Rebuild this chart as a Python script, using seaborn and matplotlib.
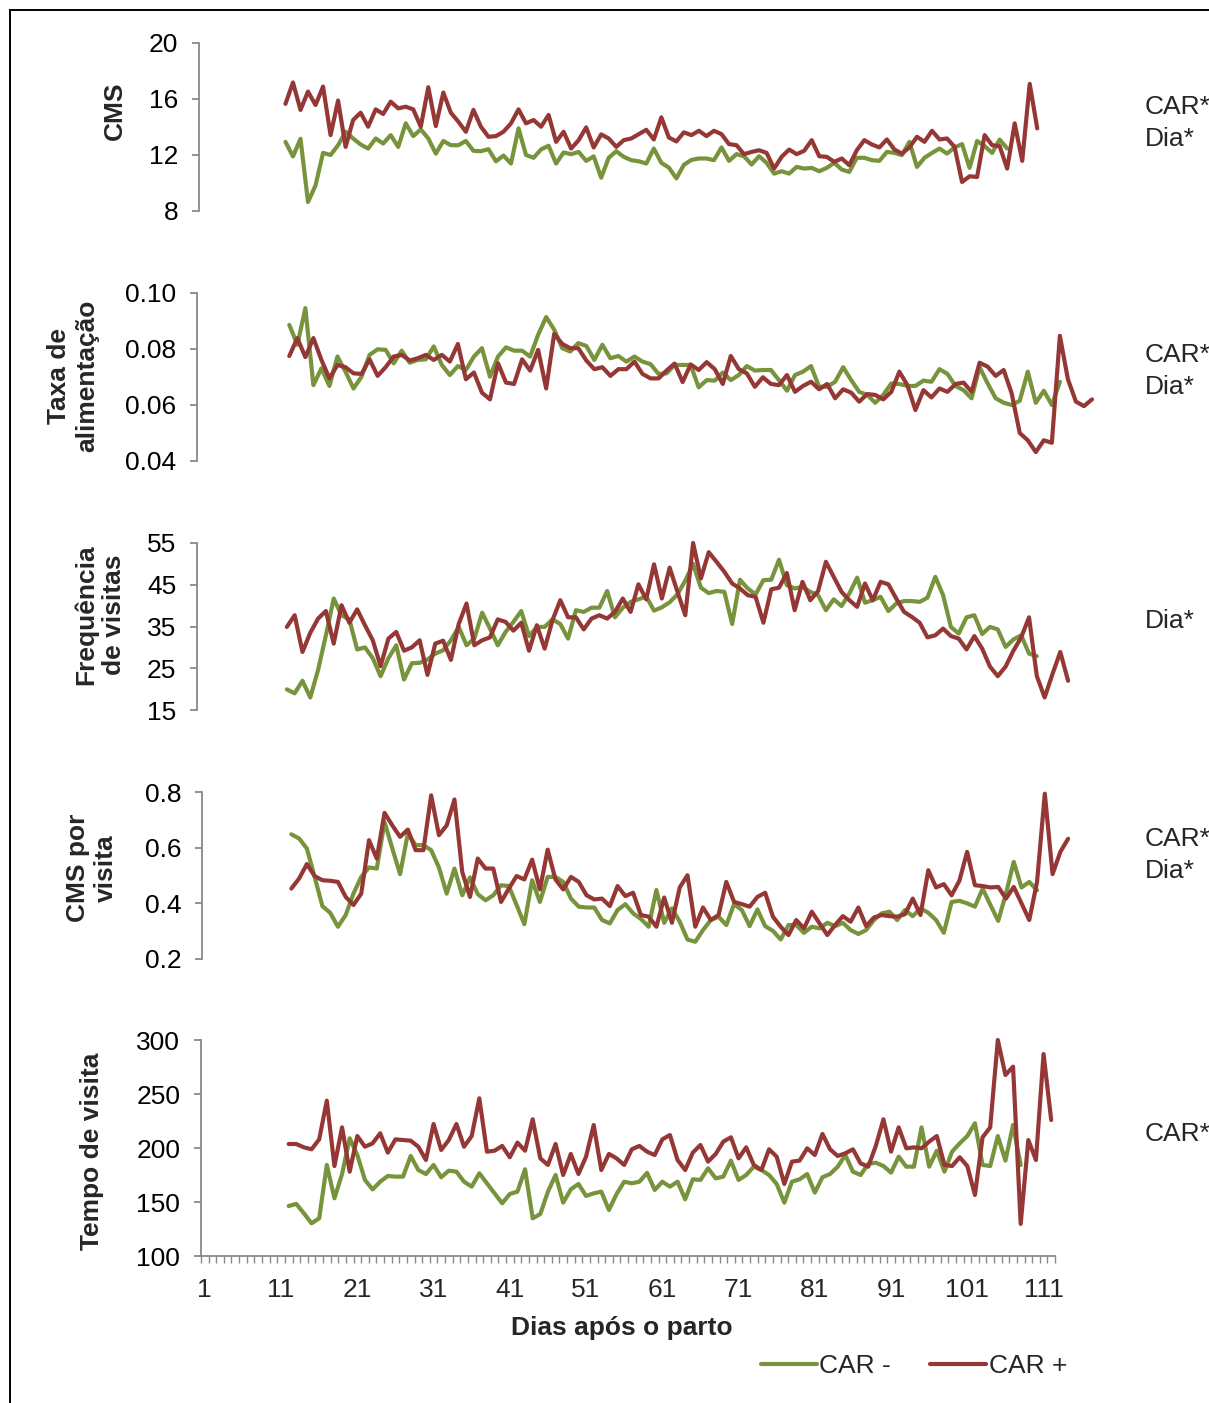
import numpy as np
import pandas as pd
import matplotlib
matplotlib.use("Agg")
import matplotlib.pyplot as plt
import seaborn as sns
from matplotlib.patches import Rectangle

# ---------------- data ----------------
dias_neg = list(range(12, 109))   # CAR - : days 12..108
dias_pos = list(range(12, 113))   # CAR + : days 12..112

cms_neg = [12.94, 11.9, 13.16, 8.64, 9.83, 12.15, 12.0, 12.7, 13.66, 13.18,
           12.75, 12.46, 13.18, 12.82, 13.42, 12.58, 14.26, 13.35, 13.83, 13.18,
           12.1, 13.0, 12.7, 12.7, 13.0, 12.3, 12.27, 12.42, 11.55, 11.96,
           11.39, 13.9, 12.0, 11.8, 12.4, 12.66, 11.39, 12.18, 12.06, 12.22,
           11.58, 11.9, 10.38, 11.8, 12.27, 11.87, 11.63, 11.55, 11.39, 12.46,
           11.44, 11.1, 10.33, 11.3, 11.65, 11.75, 11.75, 11.63, 12.54, 11.58,
           12.06, 11.91, 11.32, 11.91, 11.44, 10.67, 10.84, 10.67, 11.15, 11.03,
           11.08, 10.84, 11.08, 11.44, 10.96, 10.79, 11.8, 11.8, 11.63, 11.58,
           12.22, 12.15, 11.99, 12.94, 11.15, 11.8, 12.15, 12.46, 12.1, 12.54,
           12.78, 11.08, 13.0, 12.63, 12.15, 13.1, 12.46]
cms_pos = [15.65, 17.18, 15.22, 16.53, 15.57, 16.89, 13.42, 15.89, 12.58, 14.5,
           15.02, 14.02, 15.26, 14.93, 15.81, 15.33, 15.45, 15.26, 14.02, 16.84,
           14.07, 16.46, 15.02, 14.38, 13.66, 15.22, 14.02, 13.3, 13.35, 13.66,
           14.26, 15.26, 14.26, 14.5, 14.02, 14.86, 12.94, 13.66, 12.46, 13.06,
           13.97, 12.54, 13.47, 13.18, 12.58, 13.06, 13.18, 13.49, 13.8, 13.11,
           14.69, 13.25, 12.97, 13.62, 13.42, 13.73, 13.35, 13.73, 13.49, 12.78,
           12.7, 12.06, 12.22, 12.34, 12.15, 11.03, 11.87, 12.39, 12.06, 12.3,
           13.06, 11.91, 11.87, 11.51, 11.75, 11.27, 12.34, 13.06, 12.75, 12.54,
           13.11, 12.39, 12.1, 12.54, 13.3, 12.94, 13.73, 13.11, 13.18, 12.58,
           10.07, 10.48, 10.43, 13.42, 12.7, 12.63, 11.03, 14.26, 11.58, 17.08, 13.9]

taxa_neg = [0.0886, 0.0815, 0.0946, 0.0671, 0.0731, 0.0668, 0.0773, 0.0719, 0.0659, 0.0701,
            0.0779, 0.0799, 0.0797, 0.0749, 0.0794, 0.0751, 0.0761, 0.0763, 0.0809, 0.0743,
            0.0707, 0.0739, 0.0725, 0.0773, 0.0803, 0.0701, 0.0773, 0.0806, 0.0794, 0.0794,
            0.0773, 0.0851, 0.0914, 0.0869, 0.0803, 0.0791, 0.0821, 0.0811, 0.0761, 0.0815,
            0.0767, 0.0775, 0.0755, 0.0773, 0.0755, 0.0746, 0.0711, 0.0713, 0.0743, 0.0743,
            0.0743, 0.0663, 0.0689, 0.0687, 0.0716, 0.0689, 0.0707, 0.0739, 0.0723, 0.0725,
            0.0725, 0.0689, 0.0651, 0.0707, 0.0719, 0.0739, 0.0665, 0.0665, 0.0683, 0.0735,
            0.0689, 0.0647, 0.0636, 0.0608, 0.0636, 0.0677, 0.0675, 0.0668, 0.0668, 0.0687,
            0.0683, 0.0728, 0.0711, 0.0668, 0.0653, 0.0624, 0.0735, 0.0677, 0.0624, 0.0608,
            0.0600, 0.0615, 0.0719, 0.0608, 0.0651, 0.0600, 0.0683]
taxa_pos = [0.0775, 0.0839, 0.0771, 0.0839, 0.0761, 0.0695, 0.0743, 0.0735, 0.0713, 0.0711,
            0.0763, 0.0704, 0.0735, 0.0773, 0.0779, 0.0759, 0.0767, 0.0779, 0.0761, 0.0779,
            0.0755, 0.0818, 0.0692, 0.0716, 0.0644, 0.0620, 0.0749, 0.0680, 0.0675, 0.0763,
            0.0723, 0.0797, 0.0659, 0.0854, 0.0818, 0.0803, 0.0803, 0.0759, 0.0728, 0.0735,
            0.0704, 0.0728, 0.0728, 0.0755, 0.0711, 0.0695, 0.0695, 0.0723, 0.0748, 0.0682,
            0.0745, 0.0725, 0.0753, 0.0728, 0.0675, 0.0775, 0.0728, 0.0713, 0.0665, 0.0699,
            0.0675, 0.0671, 0.0707, 0.0647, 0.0668, 0.0683, 0.0656, 0.0675, 0.0624, 0.0656,
            0.0644, 0.0612, 0.0639, 0.0636, 0.0620, 0.0647, 0.0719, 0.0671, 0.0582, 0.0653,
            0.0627, 0.0659, 0.0647, 0.0675, 0.0680, 0.0647, 0.0751, 0.0737, 0.0704, 0.0725,
            0.0641, 0.0500, 0.0474, 0.0432, 0.0474, 0.0465, 0.0847, 0.0692, 0.0612, 0.0596, 0.0620]

freq_neg = [19.94, 19.0, 22.0, 18.0, 24.6, 32.9, 41.7, 37.7, 36.7, 29.5,
            30.0, 27.4, 23.1, 27.4, 30.5, 22.3, 26.2, 26.3, 27.1, 28.5,
            29.3, 31.7, 34.9, 30.5, 32.1, 38.3, 34.5, 30.5, 33.7, 36.1,
            38.7, 32.7, 34.9, 34.9, 36.7, 35.6, 32.1, 38.9, 38.5, 39.5,
            39.5, 43.5, 37.2, 39.5, 40.9, 41.5, 42.2, 38.8, 39.6, 40.8,
            42.7, 46.0, 50.0, 44.3, 43.0, 43.5, 43.3, 35.6, 46.2, 44.1,
            42.7, 46.1, 46.2, 51.0, 44.9, 44.1, 44.5, 43.3, 42.5, 38.9,
            41.5, 39.9, 42.9, 46.7, 40.7, 41.3, 42.1, 38.7, 40.5, 41.1,
            41.1, 40.9, 41.9, 46.9, 42.5, 34.9, 33.3, 37.2, 37.7, 33.2,
            34.9, 34.3, 30.1, 31.9, 32.9, 28.5, 27.9]
freq_pos = [34.9, 37.7, 28.9, 33.5, 36.9, 38.7, 30.9, 40.1, 35.9, 39.1,
            35.3, 31.7, 25.5, 32.1, 33.7, 29.2, 30.0, 31.7, 23.4, 30.9,
            31.6, 27.0, 35.6, 40.5, 30.5, 31.7, 32.4, 36.7, 36.1, 34.0,
            35.9, 29.2, 35.3, 29.7, 36.5, 41.3, 37.2, 37.2, 34.3, 36.9,
            37.7, 36.9, 38.5, 41.7, 38.5, 45.1, 41.5, 49.9, 41.7, 49.1,
            43.3, 37.7, 55.0, 46.5, 52.8, 50.5, 48.1, 45.3, 44.1, 42.5,
            42.1, 35.9, 43.9, 44.3, 47.8, 38.9, 45.7, 41.3, 43.5, 50.5,
            46.9, 43.3, 41.3, 39.7, 45.3, 41.3, 45.7, 45.1, 41.7, 38.5,
            37.3, 35.9, 32.4, 32.9, 34.5, 32.7, 32.1, 29.5, 32.7, 29.7,
            25.4, 23.1, 25.4, 29.2, 32.4, 37.2, 23.1, 18.0, 23.6, 28.9, 22.0]

cmsv_neg = [0.648, 0.633, 0.597, 0.495, 0.390, 0.366, 0.316, 0.358, 0.435, 0.495,
            0.529, 0.525, 0.692, 0.597, 0.505, 0.651, 0.609, 0.609, 0.591, 0.529,
            0.435, 0.525, 0.429, 0.493, 0.433, 0.411, 0.429, 0.465, 0.462, 0.394,
            0.325, 0.483, 0.405, 0.495, 0.495, 0.477, 0.417, 0.388, 0.385, 0.385,
            0.340, 0.328, 0.376, 0.397, 0.364, 0.344, 0.316, 0.448, 0.330, 0.382,
            0.334, 0.270, 0.262, 0.304, 0.340, 0.352, 0.322, 0.397, 0.376, 0.318,
            0.378, 0.318, 0.301, 0.270, 0.322, 0.322, 0.294, 0.316, 0.310, 0.330,
            0.318, 0.330, 0.304, 0.290, 0.304, 0.340, 0.364, 0.370, 0.340, 0.376,
            0.354, 0.382, 0.366, 0.340, 0.294, 0.405, 0.409, 0.400, 0.388, 0.453,
            0.394, 0.337, 0.435, 0.549, 0.457, 0.477, 0.447]
cmsv_pos = [0.453, 0.489, 0.541, 0.498, 0.483, 0.481, 0.477, 0.423, 0.394, 0.435,
            0.627, 0.561, 0.725, 0.680, 0.639, 0.665, 0.591, 0.591, 0.788, 0.645,
            0.680, 0.773, 0.513, 0.423, 0.561, 0.525, 0.525, 0.405, 0.453, 0.498,
            0.486, 0.557, 0.450, 0.593, 0.486, 0.450, 0.495, 0.477, 0.429, 0.414,
            0.417, 0.390, 0.462, 0.426, 0.438, 0.358, 0.352, 0.316, 0.421, 0.330,
            0.457, 0.501, 0.316, 0.385, 0.340, 0.358, 0.477, 0.405, 0.397, 0.388,
            0.423, 0.438, 0.352, 0.316, 0.286, 0.340, 0.310, 0.370, 0.328, 0.286,
            0.322, 0.354, 0.334, 0.385, 0.318, 0.349, 0.358, 0.354, 0.352, 0.361,
            0.417, 0.358, 0.519, 0.457, 0.469, 0.429, 0.481, 0.585, 0.465, 0.462,
            0.457, 0.459, 0.417, 0.459, 0.400, 0.340, 0.477, 0.794, 0.505, 0.585, 0.632]

tempo_neg = [146.3, 148.2, 139.5, 130.3, 134.9, 184.3, 153.4, 175.9, 209.0, 193.5,
             170.4, 161.7, 168.8, 174.1, 173.5, 173.5, 192.6, 179.6, 175.9, 184.3,
             172.9, 179.0, 178.1, 168.8, 164.2, 176.6, 167.3, 158.0, 148.8, 157.4,
             159.6, 180.3, 134.9, 138.9, 159.6, 175.0, 149.4, 161.7, 166.7, 155.6,
             158.0, 159.6, 142.6, 157.4, 168.8, 167.3, 168.8, 177.0, 161.1, 168.8,
             164.2, 168.8, 152.5, 171.0, 170.4, 181.2, 171.9, 173.5, 188.3, 170.4,
             175.0, 182.7, 179.6, 175.0, 166.7, 149.4, 168.8, 171.0, 175.9, 158.7,
             172.9, 175.9, 182.7, 193.5, 178.1, 175.0, 185.2, 186.4, 183.3, 177.2,
             192.0, 182.7, 182.7, 219.1, 182.7, 197.5, 178.1, 196.6, 204.3, 211.1,
             222.9, 184.3, 183.3, 211.1, 188.3, 221.3, 184.3]
tempo_pos = [203.7, 203.7, 200.6, 198.8, 208.0, 243.8, 183.3, 219.1, 178.1, 211.1,
             201.2, 204.3, 213.6, 195.7, 208.0, 207.4, 206.8, 201.2, 188.9, 222.2,
             198.2, 207.4, 222.2, 201.2, 211.1, 246.0, 196.6, 197.5, 201.9, 191.4,
             205.0, 197.5, 226.6, 190.4, 184.3, 203.7, 175.0, 194.5, 175.9, 192.0,
             221.3, 179.6, 194.5, 190.4, 184.3, 198.8, 201.9, 196.6, 193.5, 208.0,
             212.0, 188.9, 179.6, 195.7, 202.8, 187.4, 194.5, 205.9, 209.9, 190.4,
             200.6, 184.3, 179.6, 198.8, 192.0, 166.7, 187.4, 188.3, 199.7, 193.5,
             213.0, 198.8, 192.6, 195.1, 198.8, 185.8, 182.7, 201.9, 226.6, 196.6,
             219.1, 199.7, 200.6, 199.7, 205.9, 211.1, 184.3, 183.3, 191.4, 183.3,
             156.5, 209.9, 219.1, 300.0, 267.6, 275.3, 129.7, 207.4, 188.9, 287.0, 225.9]

grupos = ["CAR -", "CAR +"]
ylabels = ["CMS", "Taxa de\nalimentação", "Frequência\nde visitas", "CMS por\nvisita", "Tempo de visita"]
annots = ["CAR*\nDia*", "CAR*\nDia*", "Dia*", "CAR*\nDia*", "CAR*"]
yticks = [[8, 12, 16, 20], [0.04, 0.06, 0.08, 0.10], [15, 25, 35, 45, 55],
          [0.2, 0.4, 0.6, 0.8], [100, 150, 200, 250, 300]]
ytick_labels = [["8", "12", "16", "20"], ["0.04", "0.06", "0.08", "0.10"],
                ["15", "25", "35", "45", "55"], ["0.2", "0.4", "0.6", "0.8"],
                ["100", "150", "200", "250", "300"]]
xtick_pos = list(range(1, 112, 10))
xtick_labels = [str(v) for v in xtick_pos]
xlabel = "Dias após o parto"

series = [(cms_neg, cms_pos), (taxa_neg, taxa_pos), (freq_neg, freq_pos),
          (cmsv_neg, cmsv_pos), (tempo_neg, tempo_pos)]

# ---------------- style / layout ----------------
sns.set_style("white")
plt.rcParams['font.family'] = ['Liberation Sans', 'DejaVu Sans']
FS = 19
GREEN = "#77933C"
RED = "#953735"
AXC = "#898989"

W, H = 1209, 1403
fig = plt.figure(figsize=(W / 100, H / 100), dpi=100)

# pixel boxes: (x_left, x_right, y_top, y_bottom)
boxes = [(199, 1041, 43, 211), (197, 1096, 293, 461), (197, 1072, 543, 710),
         (202, 1072, 792, 959), (201, 1055, 1040, 1256)]
ylab_pos = [(115, 111), (73, 376), (100, 615), (92, 868), (92, 1151)]
annot_y = [123, 371, 621, 855, 1134]

axes = []
for i, (box, (neg, pos)) in enumerate(zip(boxes, series)):
    x0, x1, yt, yb = box
    ax = fig.add_axes([x0 / W, 1 - yb / H, (x1 - x0) / W, (yb - yt) / H])
    df = pd.concat([
        pd.DataFrame({"Dia": dias_neg, "valor": neg, "grupo": grupos[0]}),
        pd.DataFrame({"Dia": dias_pos, "valor": pos, "grupo": grupos[1]}),
    ])
    sns.lineplot(data=df, x="Dia", y="valor", hue="grupo", hue_order=grupos,
                 palette=[GREEN, RED], linewidth=3.0, ax=ax, legend=(i == 4),
                 solid_joinstyle="round", solid_capstyle="round", clip_on=False)
    ax.set_xlim(0.5, 112.5)
    ax.set_ylim(yticks[i][0], yticks[i][-1])
    ax.set_yticks(yticks[i])
    ax.set_yticklabels(ytick_labels[i])
    ax.set_xlabel("")
    ax.set_ylabel("")
    for s in ["top", "right"]:
        ax.spines[s].set_visible(False)
    ax.spines["left"].set_color(AXC)
    ax.spines["left"].set_linewidth(1.3)
    ax.tick_params(axis="y", direction="out", length=5, width=1.3, color=AXC,
                   pad=10, labelsize=FS, labelcolor="black", left=True)
    if i < 4:
        ax.spines["bottom"].set_visible(False)
        ax.set_xticks([])
    else:
        ax.spines["bottom"].set_color(AXC)
        ax.spines["bottom"].set_linewidth(1.3)
        ax.set_xticks(np.arange(0.5, 113, 1))
        ax.set_xticklabels([])
        ax.set_xticks(xtick_pos, minor=True)
        ax.set_xticklabels(xtick_labels, minor=True)
        ax.tick_params(axis="x", which="major", direction="out", length=5,
                       width=1.0, color=AXC, bottom=True)
        ax.tick_params(axis="x", which="minor", length=0, pad=16, labelsize=FS,
                       bottom=True)
    ax.patch.set_alpha(0)
    fig.text(ylab_pos[i][0] / W, 1 - ylab_pos[i][1] / H, ylabels[i], rotation=90,
             ha="center", va="center", multialignment="center",
             fontsize=FS, fontweight="bold")
    fig.text(1145 / W, 1 - annot_y[i] / H, annots[i], ha="left", va="center",
             fontsize=FS, linespacing=1.45)
    axes.append(ax)

fig.text(622 / W, 1 - 1328 / H, xlabel, ha="center", va="center",
         fontsize=FS, fontweight="bold")

# legend
handles, labels = axes[4].get_legend_handles_labels()
axes[4].get_legend().remove()
fig.legend(handles, labels, loc="center", bbox_to_anchor=(914 / W, 1 - 1366 / H),
           ncol=2, frameon=False, fontsize=FS, handlelength=2.1,
           handletextpad=0.1, columnspacing=1.5)

# outer frame
fig.patches.append(Rectangle((10 / W, -0.02), 1.2, 1 - 10 / H + 0.02, fill=False,
                             edgecolor="black", linewidth=1.4,
                             transform=fig.transFigure, figure=fig))

fig.savefig("out.png", dpi=100)
